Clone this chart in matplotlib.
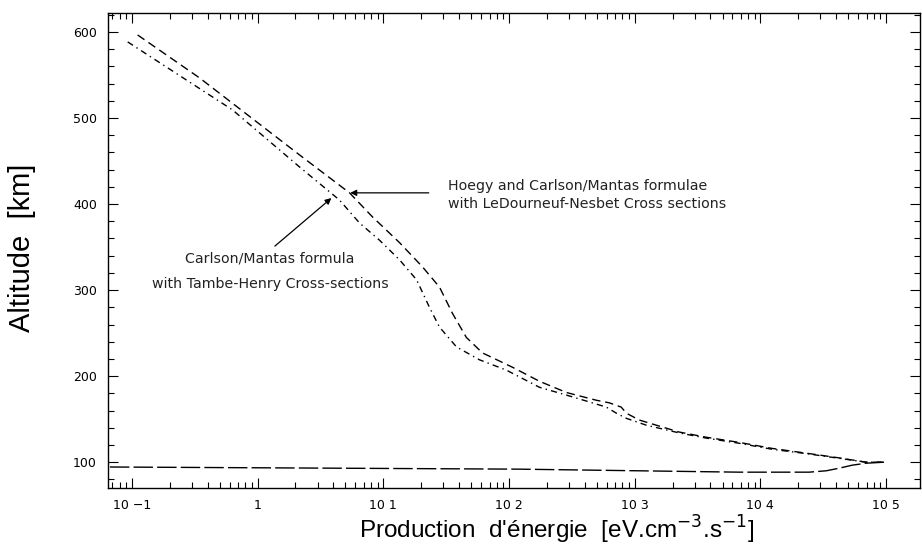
import numpy as np
import matplotlib
matplotlib.use("Agg")
import matplotlib.pyplot as plt
from matplotlib.ticker import FixedLocator, FixedFormatter, LogLocator, NullFormatter, MultipleLocator

# Hoegy and Carlson/Mantas formulae, LeDourneuf-Nesbet cross sections (dashed)
hoegy_x = [0.111, 0.346, 2.16, 5.39, 8.21, 13.5, 20.5, 28.0, 35.5, 45.8, 61.5, 106,
           175, 286, 495, 628, 782, 857, 1088, 1485, 2263, 3707, 6781, 12410, 23100,
           42300, 69300, 96400]
hoegy_alt = [596.5, 546.5, 457, 413, 385, 355, 327, 303.5, 273, 245, 227, 210.5,
             194, 181, 172, 169, 164, 157, 149, 143, 135, 129, 123, 116, 110.5,
             105, 100, 100]

# Carlson/Mantas formula, Tambe-Henry cross-sections (dash-dot)
carlson_x = [0.0926, 0.633, 2.16, 4.48, 6.47, 9.33, 13.5, 18.4, 23.3, 28.0, 38.2, 58.2,
             95.3, 175, 286, 436, 595, 714, 857, 1237, 2263, 3707, 6781, 12410, 23100,
             42300, 69300, 96400]
carlson_alt = [588.4, 509.3, 443, 404.7, 378, 358, 335, 312, 280, 257, 234, 219,
               207, 187, 178, 170, 164, 157, 151, 143, 134, 128, 122, 115, 110,
               104.5, 100, 100]

# below the peak (both profiles overlap)
low_x = [96400, 69300, 53700, 42300, 33400, 24400, 6781, 121, 0.05]
low_alt = [100, 98.8, 96.5, 93, 90, 88.4, 88.4, 91.9, 94.5]

xticks = [0.1, 1, 10, 100, 1000, 1e4, 1e5]
xticklabels = ['10 \u22121', '1', '10 1', '10 2', '10 3', '10 4', '10 5']
yticks = [100, 200, 300, 400, 500, 600]

fig = plt.figure(figsize=(9.22, 5.54), dpi=100)
ax = fig.add_axes([108 / 922, 1 - 488 / 554, 812 / 922, 475 / 554])

ax.plot(hoegy_x, hoegy_alt, color='black', lw=1.0, dashes=(6, 3.5))
ax.plot(carlson_x, carlson_alt, color='black', lw=1.0, dashes=(4.5, 3, 1, 3))
ax.plot(low_x, low_alt, color='black', lw=1.0, dashes=(14, 3))

ax.set_xscale('log')
ax.set_xlim(10 ** -1.19, 10 ** 5.27)
ax.set_ylim(70, 622)

ax.xaxis.set_major_locator(FixedLocator(xticks))
ax.xaxis.set_major_formatter(FixedFormatter(xticklabels))
ax.xaxis.set_minor_locator(LogLocator(base=10, subs=np.arange(2, 10)))
ax.xaxis.set_minor_formatter(NullFormatter())
ax.yaxis.set_major_locator(FixedLocator(yticks))
ax.yaxis.set_minor_locator(MultipleLocator(20))

ax.tick_params(which='both', direction='in', top=True, right=True, width=0.8)
ax.tick_params(which='major', length=7, labelsize=9, pad=8)
ax.tick_params(which='minor', length=4)
for s in ax.spines.values():
    s.set_linewidth(1.0)

# annotations
ax.annotate('', xy=(5.19, 413), xytext=(24.2, 413),
            arrowprops=dict(arrowstyle='-|>', color='black', lw=0.9, mutation_scale=9))
ax.annotate('', xy=(4.02, 409), xytext=(1.32, 349),
            arrowprops=dict(arrowstyle='-|>', color='black', lw=0.9, mutation_scale=9))

note = dict(fontsize=10.2, color='#222222')
fig.text(448 / 922, 1 - 186 / 554, 'Hoegy and Carlson/Mantas formulae',
         ha='left', va='center', **note)
fig.text(448 / 922, 1 - 204 / 554, 'with LeDourneuf-Nesbet Cross sections',
         ha='left', va='center', **note)
fig.text(270 / 922, 1 - 258 / 554, 'Carlson/Mantas formula',
         ha='center', va='center', **note)
fig.text(270 / 922, 1 - 284 / 554, 'with Tambe-Henry Cross-sections',
         ha='center', va='center', **note)

fig.text(557 / 922, 1 - 530 / 554,
         "Production  d'\u00e9nergie  [eV.cm$^{-3}$.s$^{-1}$]",
         fontsize=17.5, family='Liberation Sans', ha='center', va='center')
fig.text(22 / 922, 1 - 248 / 554, 'Altitude  [km]',
         fontsize=21, family='Liberation Sans', ha='center', va='center', rotation=90)

fig.savefig('out.png', dpi=100)
